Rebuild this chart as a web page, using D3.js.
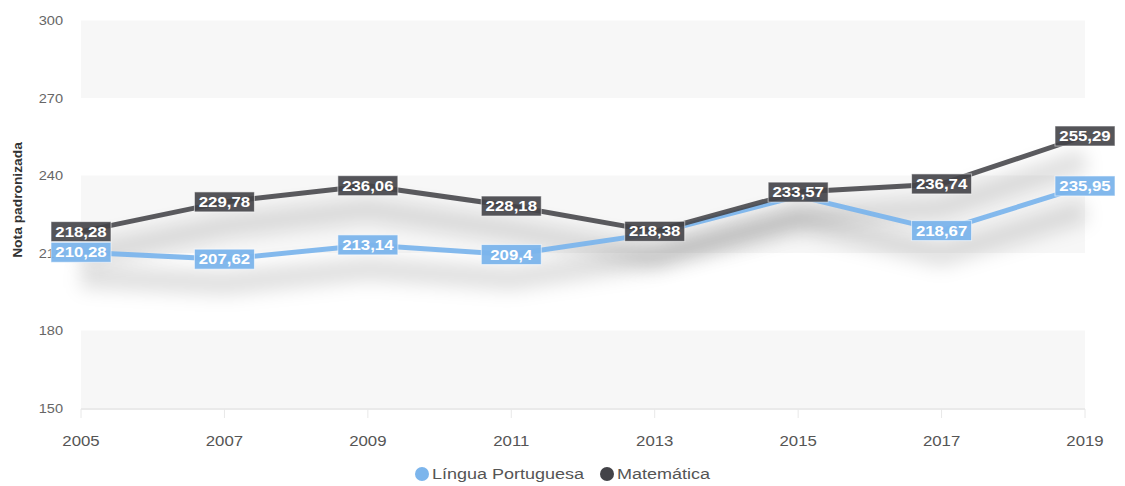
<!DOCTYPE html>
<html><head><meta charset="utf-8">
<script src="https://cdn.jsdelivr.net/npm/d3@7"></script>
<style>body{margin:0;background:#fff;font-family:"Liberation Sans",Arial,sans-serif}</style>
</head><body><svg id="c" width="1125" height="486"></svg>
<script>
const years = [2005, 2007, 2009, 2011, 2013, 2015, 2017, 2019];
const portugues = [210.28, 207.62, 213.14, 209.4, 217.6, 232.0, 218.67, 235.95];
const matematica = [218.28, 229.78, 236.06, 228.18, 218.38, 233.57, 236.74, 255.29];
const yTicks = [150, 180, 210, 240, 270, 300];
const seriesNames = ["Língua Portuguesa", "Matemática"];
const seriesColors = ["#7cb5ec", "#434348"];

const svg = d3.select("#c");
const x = d3.scaleLinear().domain([2005, 2019]).range([81, 1085]);
const y = d3.scaleLinear().domain([150, 300]).range([408, 20.5]);

const defs = svg.append("defs");
defs.append("filter").attr("id","sh").attr("x","-10%").attr("y","-50%").attr("width","120%").attr("height","300%")
  .append("feGaussianBlur").attr("stdDeviation", 9);

// bands
for (let i = 0; i < yTicks.length - 1; i += 2) {
  svg.append("rect").attr("x", x(2005)).attr("width", x(2019) - x(2005))
    .attr("y", y(yTicks[i+1])).attr("height", y(yTicks[i]) - y(yTicks[i+1]))
    .attr("fill", "#f7f7f7");
}
// y labels
svg.append("g").selectAll("text").data(yTicks).join("text")
  .attr("transform", d => `translate(63,${y(d) + 4.5}) scale(1.12,1)`).attr("text-anchor", "end")
  .attr("font-size", 13).attr("fill", "#666").text(d => d);
// x axis
svg.append("line").attr("x1", x(2005)).attr("x2", x(2019)).attr("y1", 409).attr("y2", 409)
  .attr("stroke", "#e3e3e3").attr("stroke-width", 1.5);
svg.append("g").selectAll("line").data(years).join("line")
  .attr("x1", d => x(d)).attr("x2", d => x(d)).attr("y1", 409).attr("y2", 418)
  .attr("stroke", "#e8e8e8");
svg.append("g").selectAll("text").data(years).join("text")
  .attr("transform", d => `translate(${x(d)},446) scale(1.2,1)`).attr("text-anchor", "middle")
  .attr("font-size", 14).attr("fill", "#555").text(d => d);
// y title
svg.append("text").attr("transform", `translate(22,200) rotate(-90) scale(1.15,1)`)
  .attr("text-anchor", "middle").attr("font-size", 12).attr("font-weight", "bold")
  .attr("fill", "#333").text("Nota padronizada");

const line = d3.line().x((d, i) => x(years[i])).y(d => y(d));
const all = [portugues, matematica];
// shadows
all.forEach((s) => {
  svg.append("path").attr("d", line(s)).attr("fill", "none")
    .attr("stroke", "#000").attr("stroke-opacity", 0.12).attr("stroke-width", 24)
    .attr("transform", "translate(0,24)").attr("filter", "url(#sh)");
});
all.forEach((s, k) => {
  svg.append("path").attr("d", line(s)).attr("fill", "none")
    .attr("stroke", seriesColors[k]).attr("stroke-width", 5)
    .attr("stroke-linejoin", "round").attr("stroke-linecap", "round")
    .attr("opacity", k === 0 ? 0.95 : 0.88);
});

// labels with overlap hiding (later series has priority)
const fmt = v => String(v).replace(".", ",");
const boxes = [];
const W = 60, H = 20;
all.forEach((s, k) => s.forEach((v, i) => boxes.push({k, i, v, cx: x(years[i]), cy: y(v)})));
boxes.forEach(b => {
  b.hidden = b.k === 0 && boxes.some(o => o.k === 1 && o.i === b.i &&
    Math.abs(o.cx - b.cx) < W && Math.abs(o.cy - b.cy) < H);
});
const lg = svg.append("g");
boxes.filter(b => !b.hidden).forEach(b => {
  const g = lg.append("g").attr("transform", `translate(${b.cx},${b.cy})`);
  g.append("rect").attr("x", -W/2).attr("y", -H/2).attr("width", W).attr("height", H)
    .attr("fill", seriesColors[b.k]).attr("opacity", b.k === 0 ? 0.95 : 0.9)
    .attr("stroke", "#fff").attr("stroke-opacity", 0.6).attr("stroke-width", 1);
  g.append("text").attr("transform", "translate(0,5) scale(1.2,1)").attr("text-anchor", "middle").attr("font-size", 14)
    .attr("font-weight", "bold").attr("fill", "#fff").text(fmt(b.v));
});

// legend
const leg = svg.append("g").attr("transform", "translate(0,474)");
const items = [{x: 422}, {x: 607}];
seriesNames.forEach((n, k) => {
  leg.append("circle").attr("cx", items[k].x).attr("cy", 0).attr("r", 7).attr("fill", seriesColors[k]);
  leg.append("text").attr("transform", `translate(${items[k].x + 10},5) scale(1.2,1)`).attr("font-size", 15)
    .attr("fill", "#555").text(n);
});
</script></body></html>
